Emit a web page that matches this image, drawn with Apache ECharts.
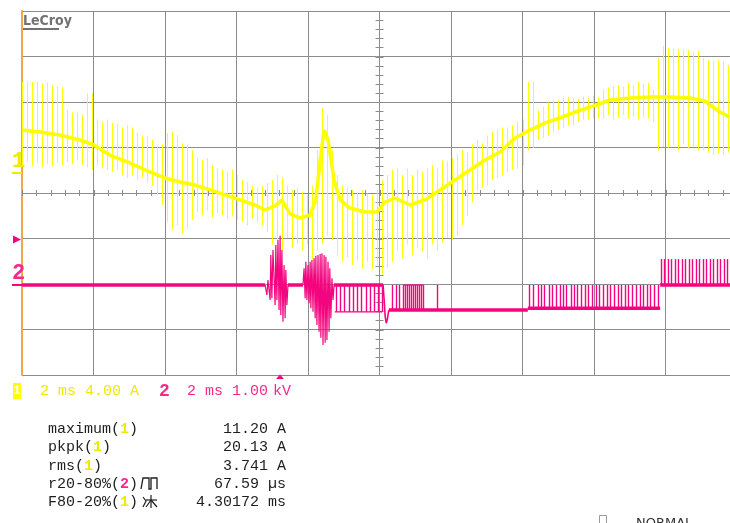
<!DOCTYPE html>
<html>
<head>
<meta charset="utf-8">
<title>Scope capture</title>
<script src="https://cdn.jsdelivr.net/npm/echarts@6/dist/echarts.min.js"></script>
<style>
  html, body { margin: 0; padding: 0; background: #ffffff; }
  #chart { width: 730px; height: 523px; }
</style>
</head>
<body>
<div id="chart"></div>
<script>
// ---- Channel 1 (current, A): slow envelope of the trace ----
const ch1CenterTimeMs = [0.00,0.50,1.06,1.62,2.01,2.46,3.02,3.58,4.00,4.42,4.84,5.26,5.68,6.10,6.52,6.80,7.08,7.27,7.50,7.78,8.06,8.22,8.34,8.45,8.56,8.73,8.90,9.17,9.59,9.93,10.15,10.43,10.85,11.27,11.69,12.11,12.53,12.95,13.37,13.79,14.21,14.63,15.05,15.47,15.89,16.45,17.01,17.57,18.13,18.69,19.10,19.52,19.80];
const ch1CenterAmps = [3.78,3.60,3.34,2.90,2.46,1.58,0.88,0.09,-0.44,-0.79,-1.06,-1.49,-1.93,-2.37,-2.81,-3.25,-2.90,-2.37,-3.60,-3.96,-3.69,-2.37,1.14,3.78,2.90,-0.62,-2.37,-3.08,-3.43,-3.43,-2.55,-2.20,-2.81,-2.37,-1.49,-0.62,0.26,1.14,1.85,3.08,3.78,4.40,4.84,5.36,5.80,6.42,6.59,6.68,6.68,6.59,6.33,5.36,4.92];

// ---- Channel 1 switching spikes: one spike per sample interval ----
const spikeStepMs = 0.14;
const ch1SpikeHighAmps = [
  8.0,8.0,8.0,8.0,7.9,7.9,7.7,7.6,7.5,
  5.5,5.3,5.4,5.1,7.0,7.0,
  4.7,4.5,4.7,4.4,4.3,4.0,4.2,4.0,
  3.5,3.3,3.2,2.9,2.4,2.5,
  3.5,3.6,3.3,2.6,2.5,2.0,
  1.3,1.1,1.3,0.7,0.4,0.3,0.1,0.3,-0.2,-0.6,-0.8,
  -1.1,-1.3,-1.1,-0.9,-0.6,-0.2,-0.4,-1.1,-1.5,-1.3,-1.7,-1.9,-1.1,
  2.0,5.7,5.1,2.0,
  -0.2,-1.1,-1.3,-1.5,-1.7,-1.5,-1.8,-1.9,-1.5,-0.6,-0.2,
  0.3,0.4,-0.2,0.4,-0.2,0.3,0.1,0.4,0.7,0.4,1.1,1.0,1.3,1.6,2.0,1.8,
  2.5,2.9,2.6,3.3,3.6,3.8,4.0,4.0,4.2,4.5,4.7,
  8.0,8.0,
  5.5,5.8,6.2,6.4,6.4,6.6,6.7,6.6,6.5,6.7,6.6,6.8,6.7,
  7.3,7.5,7.6,7.7,7.6,7.9,7.7,8.0,7.8,7.9,7.3,
  10.1,11.2,11.0,10.9,10.9,10.8,10.8,10.6,10.7,10.1,9.9,9.8,9.9,9.8,9.5
];
const ch1SpikeLowAmps = [
  0.7,1.0,0.6,0.9,0.5,0.8,0.6,0.9,0.7,
  1.0,0.8,1.1,0.7,0.5,0.3,
  0.7,0.4,0.3,0.1,0.3,-0.2,-0.4,-0.2,-0.6,-0.4,-0.8,-1.1,-1.9,-2.8,
  -4.3,-5.0,-4.6,-5.3,-4.9,-4.1,
  -3.4,-3.7,-3.3,-3.9,-3.5,-3.7,-4.0,-3.8,-4.1,-4.3,-4.6,
  -4.0,-4.3,-4.6,-5.2,-6.3,-5.9,-6.8,-5.7,-6.6,-6.2,-6.8,-6.3,-7.6,
  -6.8,-6.2,-5.5,-5.9,
  -7.2,-7.8,-7.4,-8.1,-7.7,-8.4,-7.8,-8.5,-8.1,-8.93,-8.3,
  -7.8,-6.8,-7.5,-6.3,-7.2,-6.6,-6.9,-7.5,-6.3,-6.8,-6.1,-5.7,-5.9,-5.5,-4.6,-3.8,
  -2.6,-1.5,-1.3,-1.1,-0.6,-0.4,-0.2,0.1,0.3,0.4,0.7,
  2.0,2.2,
  2.9,3.1,3.3,3.6,3.8,4.0,4.2,4.2,4.5,4.7,4.7,4.8,4.8,
  4.8,5.1,4.7,4.9,5.1,4.8,5.0,4.7,4.9,4.8,4.5,
  2.0,2.3,2.2,2.5,2.0,2.5,2.2,2.3,2.0,2.0,1.8,1.6,1.7,1.6,1.8
];

// ---- Channel 2 (voltage, kV) ----
// steady levels: [start ms, end ms, kV]
const ch2Levels = [[0,6.80,0],[7.44,7.86,0],[8.73,10.10,0],[10.26,14.15,-0.55],[14.15,17.85,-0.51],[17.85,20.00,0]];
// thin square-wave edges: [start ms, end ms, kV]
const ch2Edges = [[8.75,10.07,-0.59],[10.66,11.22,0]];
// ringing bursts and the dip after them: [ms, kV]
const ch2Burst1 = [[6.80,0],[6.85,-0.22],[6.88,0.11],[6.94,-0.33],[6.96,0.66],[6.99,-0.29],[7.02,0.77],[7.08,-0.44],[7.10,0.88],[7.13,-0.33],[7.16,0.99],[7.19,-0.55],[7.22,1.08],[7.24,-0.66],[7.27,0.77],[7.30,-0.81],[7.33,0.44],[7.36,-0.73],[7.38,0.33],[7.41,-0.44],[7.44,0],[7.50,0]];
const ch2Burst2 = [[7.86,0],[7.89,0.37],[7.92,-0.29],[7.94,0.51],[7.97,-0.33],[8.00,0.44],[8.03,-0.40],[8.06,0.51],[8.08,-0.51],[8.11,0.55],[8.14,-0.59],[8.17,0.59],[8.20,-0.73],[8.22,0.64],[8.25,-0.88],[8.28,0.66],[8.31,-1.03],[8.34,0.68],[8.36,-1.16],[8.39,0.70],[8.42,-1.32],[8.45,0.66],[8.48,-1.27],[8.50,0.62],[8.53,-1.21],[8.56,0.51],[8.59,-1.03],[8.61,0.37],[8.64,-0.73],[8.67,0.15],[8.70,-0.33],[8.73,0]];
const ch2Dip = [[10.10,0],[10.13,-0.33],[10.16,-0.70],[10.19,-0.84],[10.22,-0.75],[10.26,-0.55]];
// gate pulses, grouped by the levels they switch between
const ch2PulseTimesA = [8.78,8.89,9.01,9.15,9.26,9.37,9.48,9.62,9.73,9.85,9.96,10.07];
const ch2PulseTimesB = [10.35,10.46,10.54,10.66,10.71,10.77,10.82,10.88,10.94,10.99,11.05,11.10,11.16,11.22,11.61];
const ch2PulseTimesC = [14.18,14.29,14.43,14.52,14.60,14.74,14.82,14.94,15.05,15.13,15.22,15.36,15.44,15.52,15.64,15.75,15.83,15.94,16.05,16.14,16.25,16.36,16.45,16.56,16.67,16.75,16.87,16.95,17.06,17.17,17.28,17.37,17.48,17.57,17.68,17.79];
const ch2PulseTimesD = [17.87,17.96,18.07,18.15,18.26,18.35,18.46,18.54,18.66,18.74,18.85,18.94,19.05,19.13,19.24,19.33,19.44,19.52,19.64,19.72];
const ch2PulseLevelsKV = [[0,-0.59],[-0.55,0],[-0.51,0],[0,0.57]];

// ---- Readouts ----
const ch1Setup = '2 ms 4.00 A';
const ch2Setup = ['2 ms 1.00', 'kV'];
const readoutNames = ['maximum', 'pkpk', 'rms', 'r20-80%', 'F80-20%'];
const readoutSources = ['1', '1', '1', '2', '1'];
const readoutValues = ['11.20 A', '20.13 A', '3.741 A', '67.59 µs', '4.30172 ms'];

// ---------------------------------------------------------------
const YELLOW = '#ffff00';
const YELLOW_TXT = '#eeea00';
const MAGENTA = '#f2057e';
const MAGENTA_TXT = '#f5288c';
const GRID = '#8c8c8c';
const MONO = '"Liberation Mono", "DejaVu Sans Mono", monospace';

const ch1Center = ch1CenterTimeMs.map((t, i) => [t, ch1CenterAmps[i]]);
const ch1Spikes = ch1SpikeHighAmps.map((hi, i) => [i * spikeStepMs, ch1SpikeLowAmps[i], hi]);
const ch2Pulses = [];
[ch2PulseTimesA, ch2PulseTimesB, ch2PulseTimesC, ch2PulseTimesD].forEach((times, k) => {
  times.forEach(t => ch2Pulses.push([t, ch2PulseLevelsKV[k][0], ch2PulseLevelsKV[k][1]]));
});

// graticule minor ticks along the centre axes
const hTicks = [];
for (let k = 0; k <= 50; k++) hTicks.push([k * 0.4, 0]);
const vTicks = [];
for (let k = 0; k <= 40; k++) vTicks.push([10, -4 + k * 0.2]);

function verticalSegments(color, width) {
  return function (params, api) {
    const a = api.coord([api.value(0), api.value(1)]);
    const b = api.coord([api.value(0), api.value(2)]);
    const x = Math.round(a[0]) + 0.5;
    return { type: 'line', shape: { x1: x, y1: a[1], x2: x, y2: b[1] },
             style: { stroke: color, lineWidth: width } };
  };
}
function horizontalSegments(color, width) {
  return function (params, api) {
    const a = api.coord([api.value(0), api.value(2)]);
    const b = api.coord([api.value(1), api.value(2)]);
    return { type: 'line', shape: { x1: a[0], y1: a[1], x2: b[0], y2: b[1] },
             style: { stroke: color, lineWidth: width } };
  };
}

function txt(x, y, text, fill, size, extra) {
  return { type: 'text', x: x, y: y, silent: true, z: 100,
    style: Object.assign({ text: text, fill: fill, fontSize: size, fontFamily: MONO,
      align: 'left', verticalAlign: 'middle' }, extra || {}) };
}

const graphics = [];
// logo
graphics.push({ type: 'text', x: 23, y: 21, z: 100, style: { text: 'LeCroy', fill: '#727272',
  fontSize: 14, fontWeight: 'bold', fontFamily: '"DejaVu Sans Condensed", "DejaVu Sans"', verticalAlign: 'middle' } });
graphics.push({ type: 'rect', z: 100, shape: { x: 23, y: 28, width: 36, height: 2 }, style: { fill: '#727272' } });
// channel ground markers
graphics.push(txt(12, 161, '1', YELLOW_TXT, 22, { fontWeight: 'bold' }));
graphics.push({ type: 'rect', z: 100, shape: { x: 12, y: 172, width: 10, height: 2 }, style: { fill: YELLOW_TXT } });
graphics.push(txt(12, 273, '2', MAGENTA_TXT, 22, { fontWeight: 'bold' }));
graphics.push({ type: 'rect', z: 100, shape: { x: 12, y: 284, width: 10, height: 2 }, style: { fill: MAGENTA } });
// trigger level and trigger position arrows
graphics.push({ type: 'polygon', z: 100, shape: { points: [[13, 235.5], [13, 243.5], [21, 239.5]] }, style: { fill: MAGENTA } });
graphics.push({ type: 'polygon', z: 100, shape: { points: [[276, 379], [284, 379], [280, 374.5]] }, style: { fill: MAGENTA } });
// channel setup line
graphics.push({ type: 'rect', z: 100, shape: { x: 13, y: 383, width: 8, height: 16 }, style: { fill: YELLOW } });
graphics.push(txt(17, 391, '1', '#ffffff', 13, { align: 'center', fontWeight: 'bold' }));
graphics.push(txt(40, 391, ch1Setup, YELLOW_TXT, 15));
graphics.push(txt(159, 391, '2', MAGENTA_TXT, 18, { fontWeight: 'bold' }));
graphics.push(txt(187, 391, ch2Setup[0], MAGENTA_TXT, 15));
graphics.push(txt(273, 391, ch2Setup[1], MAGENTA_TXT, 15));
// measurement readouts
const rowY = [429, 447, 466, 484, 502];
readoutNames.forEach((name, i) => {
  const y = rowY[i];
  const srcX = 48 + 9 * (name.length + 1);
  graphics.push(txt(48, y, name + '(', '#1e1e1e', 15));
  graphics.push(txt(srcX, y, readoutSources[i], readoutSources[i] === '2' ? MAGENTA_TXT : YELLOW_TXT, 15, { fontWeight: 'bold' }));
  graphics.push(txt(srcX + 9, y, ')', '#1e1e1e', 15));
  graphics.push(txt(286, y, readoutValues[i], '#1e1e1e', 15, { align: 'right' }));
});
// rise-time pulse icon
graphics.push({ type: 'polyline', z: 100, shape: { points: [[141, 489], [143, 478], [149, 478], [149, 489], [151, 489], [151, 478], [157, 478], [157, 489]] },
  style: { stroke: '#1e1e1e', lineWidth: 1.3, fill: null } });
// fall-time edge icon
graphics.push({ type: 'polyline', z: 100, shape: { points: [[143, 497], [146, 501], [143, 507]] }, style: { stroke: '#1e1e1e', lineWidth: 1.2, fill: null } });
graphics.push({ type: 'line', z: 100, shape: { x1: 151, y1: 495, x2: 151, y2: 508 }, style: { stroke: '#1e1e1e', lineWidth: 1.2 } });
graphics.push({ type: 'line', z: 100, shape: { x1: 146, y1: 500, x2: 157, y2: 500 }, style: { stroke: '#1e1e1e', lineWidth: 1.2 } });
graphics.push({ type: 'line', z: 100, shape: { x1: 151, y1: 500, x2: 146, y2: 507 }, style: { stroke: '#1e1e1e', lineWidth: 1.2 } });
graphics.push({ type: 'line', z: 100, shape: { x1: 151, y1: 500, x2: 157, y2: 507 }, style: { stroke: '#1e1e1e', lineWidth: 1.2 } });
// trigger mode
graphics.push({ type: 'rect', z: 100, shape: { x: 599.5, y: 515.5, width: 7, height: 10 }, style: { fill: null, stroke: '#9a9a9a', lineWidth: 1 } });
graphics.push({ type: 'text', x: 636, y: 517, z: 100, style: { text: 'NORMAL', fill: '#333333', fontSize: 13, fontFamily: '"DejaVu Sans"', verticalAlign: 'top' } });

const chart = echarts.init(document.getElementById('chart'), null, { renderer: 'canvas' });
chart.setOption({
  animation: false,
  backgroundColor: '#ffffff',
  grid: { left: 22, top: 11, width: 715, height: 364, outerBoundsMode: 'none', containLabel: false },
  xAxis: [{
    type: 'value', min: 0, max: 20, interval: 2,
    axisLine: { show: false }, axisTick: { show: false }, axisLabel: { show: false },
    splitLine: { show: true, lineStyle: { color: GRID, width: 1 } }
  }],
  yAxis: [
    { type: 'value', min: -4, max: 4, interval: 1,
      axisLine: { show: true, onZero: false, lineStyle: { color: '#f2a846', width: 2 } },
      axisTick: { show: false }, axisLabel: { show: false },
      splitLine: { show: true, lineStyle: { color: GRID, width: 1 } } },
    { type: 'value', min: -17.758, max: 14.242, show: false, splitLine: { show: false } },
    { type: 'value', min: -1.978, max: 6.022, show: false, splitLine: { show: false } }
  ],
  series: [
    { type: 'custom', name: 'ticksH', xAxisIndex: 0, yAxisIndex: 0, data: hTicks, silent: true, z: 1,
      encode: { x: 0, y: 1 },
      renderItem: function (params, api) {
        const p = api.coord([api.value(0), api.value(1)]);
        const x = Math.round(p[0]) + 0.5;
        return { type: 'line', shape: { x1: x, y1: p[1] - 3, x2: x, y2: p[1] + 3 }, style: { stroke: GRID, lineWidth: 1 } };
      } },
    { type: 'custom', name: 'ticksV', xAxisIndex: 0, yAxisIndex: 0, data: vTicks, silent: true, z: 1,
      encode: { x: 0, y: 1 },
      renderItem: function (params, api) {
        const p = api.coord([api.value(0), api.value(1)]);
        const y = Math.round(p[1]) + 0.5;
        return { type: 'line', shape: { x1: p[0] - 4, y1: y, x2: p[0] + 4, y2: y }, style: { stroke: GRID, lineWidth: 1 } };
      } },
    { type: 'custom', name: 'ch1 spikes', xAxisIndex: 0, yAxisIndex: 1, data: ch1Spikes, clip: true, z: 2,
      encode: { x: 0, y: [1, 2] }, renderItem: verticalSegments(YELLOW, 1) },
    { type: 'line', name: 'ch1', xAxisIndex: 0, yAxisIndex: 1, data: ch1Center, showSymbol: false, z: 3,
      lineStyle: { color: YELLOW, width: 3.5 } },
    { type: 'custom', name: 'ch2 levels', xAxisIndex: 0, yAxisIndex: 2, data: ch2Levels, clip: true, z: 4,
      encode: { x: [0, 1], y: 2 }, renderItem: horizontalSegments(MAGENTA, 3.5) },
    { type: 'custom', name: 'ch2 edges', xAxisIndex: 0, yAxisIndex: 2, data: ch2Edges, clip: true, z: 4,
      encode: { x: [0, 1], y: 2 }, renderItem: horizontalSegments(MAGENTA, 1.2) },
    { type: 'custom', name: 'ch2 pulses', xAxisIndex: 0, yAxisIndex: 2, data: ch2Pulses, clip: true, z: 4,
      encode: { x: 0, y: [1, 2] }, renderItem: verticalSegments(MAGENTA, 1.4) },
    { type: 'line', name: 'ch2 burst 1', xAxisIndex: 0, yAxisIndex: 2, data: ch2Burst1, showSymbol: false, z: 5,
      lineStyle: { color: MAGENTA, width: 1.2 } },
    { type: 'line', name: 'ch2 burst 2', xAxisIndex: 0, yAxisIndex: 2, data: ch2Burst2, showSymbol: false, z: 5,
      lineStyle: { color: MAGENTA, width: 1.2 } },
    { type: 'line', name: 'ch2 dip', xAxisIndex: 0, yAxisIndex: 2, data: ch2Dip, showSymbol: false, z: 5,
      lineStyle: { color: MAGENTA, width: 1.6 } }
  ],
  graphic: graphics
});
</script>
</body>
</html>
